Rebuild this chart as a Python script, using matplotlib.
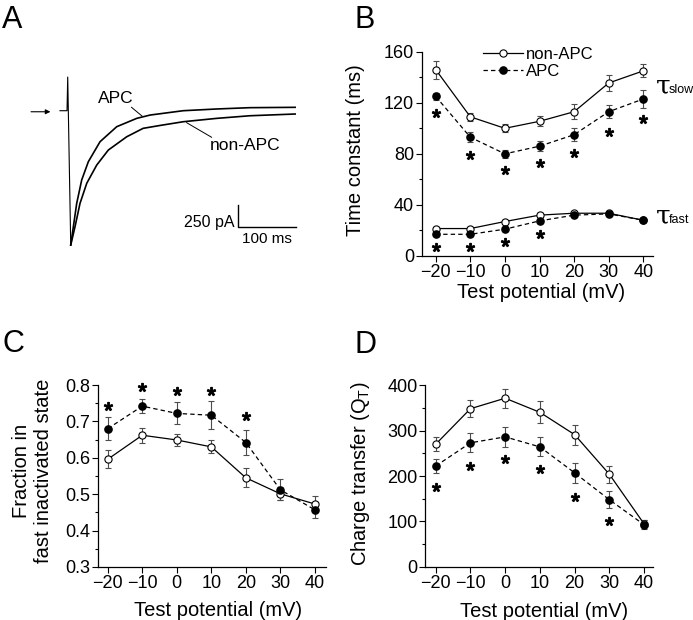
import numpy as np
import matplotlib
matplotlib.use("Agg")
import matplotlib.pyplot as plt
from matplotlib.ticker import MultipleLocator

plt.rcParams['font.family'] = ['Liberation Sans', 'DejaVu Sans']
plt.rcParams['mathtext.fontset'] = 'custom'
plt.rcParams['mathtext.rm'] = 'Liberation Sans'
plt.rcParams['mathtext.it'] = 'Liberation Sans:italic'

# ---- data ----
# panel A: current traces (ms, pA)
t_apc = [-13.3, -1.2, 0.0, 5.2, 15.5, 24.1, 35.5, 55.7, 84.5, 119, 142, 199, 257, 314, 392]
i_apc = [0, 0, 388, -1547, -1067, -798, -588, -357, -184, -88, -50, 0, 20, 35, 39]
t_non = [5.2, 12.6, 21.2, 32.8, 50, 70, 101.7, 130, 159, 199, 257, 314, 392]
i_non = [-1547, -1336, -1067, -836, -626, -453, -300, -203, -170, -127, -88, -58, -38]

# test potentials (mV)
volts = [-20, -10, 0, 10, 20, 30, 40]

# panel B: time constants (ms)
slow_non = [146, 109, 100, 105.5, 113, 135.5, 145]
slow_non_err = [7, 3, 3, 4, 6, 6, 5]
slow_apc = [125, 93, 80, 86, 95, 113, 123]
slow_apc_err = [3, 4, 3, 4, 5, 5, 7]
fast_non = [21.5, 21.5, 27, 32, 33.5, 33.5, 28]
fast_non_err = [1.5, 1.5, 1.5, 1.5, 1, 1, 1]
fast_apc = [17, 17, 21, 27.5, 32, 33, 28]
fast_apc_err = [1.5, 1.5, 1.5, 1.5, 1, 1, 1]
star_slow_y = [112, 79, 67, 73, 80.5, 97, 107]
star_fast_x = [-20, -10, 0, 10]
star_fast_y = [7.3, 7.3, 11.2, 17.2]

# panel C: fraction in fast inactivated state
frac_non = [0.596, 0.662, 0.649, 0.630, 0.545, 0.501, 0.473]
frac_non_err = [0.025, 0.02, 0.017, 0.018, 0.026, 0.018, 0.022]
frac_apc = [0.680, 0.742, 0.722, 0.717, 0.642, 0.512, 0.457]
frac_apc_err = [0.031, 0.02, 0.03, 0.038, 0.035, 0.029, 0.022]
star_c_x = [-20, -10, 0, 10, 20]
star_c_y = [0.741, 0.794, 0.783, 0.783, 0.714]

# panel D: charge transfer
q_non = [270, 348, 371, 340, 291, 204, 95]
q_non_err = [15, 18, 21, 24, 22, 19, 8]
q_apc = [222, 273, 286, 264, 207, 148, 93]
q_apc_err = [16, 21, 22, 21, 22, 18, 10]
star_d_x = [-20, -10, 0, 10, 20, 30]
star_d_y = [175, 223, 237, 215, 153, 102]

fig = plt.figure(figsize=(6.93, 6.2), dpi=100)

TICK = 13
LAB = 14.5


def pair(ax, y1, e1, y2, e2):
    ax.errorbar(volts, y1, yerr=e1, fmt='none', ecolor='0.3', elinewidth=0.8,
                capsize=2.5, capthick=0.8, zorder=2)
    ax.errorbar(volts, y2, yerr=e2, fmt='none', ecolor='0.3', elinewidth=0.8,
                capsize=2.5, capthick=0.8, zorder=2)
    ax.plot(volts, y1, '-', color='k', lw=0.9, marker='o', ms=5.2,
            mfc='white', mec='k', mew=0.8, zorder=3, label='non-APC')
    ax.plot(volts, y2, color='k', lw=0.9, ls=(0, (3.5, 2.5)), marker='o', ms=5.2,
            mfc='k', mec='k', zorder=4, label='APC')


def stars(ax, x, y):
    ax.plot(x, y, ls='none', marker='$*$', ms=5.8, color='k', clip_on=False, zorder=5)


def style(ax, xlim):
    for s in ['top', 'right']:
        ax.spines[s].set_visible(False)
    ax.spines['left'].set_linewidth(0.9)
    ax.spines['bottom'].set_linewidth(0.9)
    ax.set_xlim(*xlim)
    ax.set_xticks(volts)
    ax.tick_params(direction='out', length=4, width=0.8, labelsize=TICK, pad=1.5)
    ax.tick_params(which='minor', direction='out', length=2.5, width=0.8)


# ---- A ----
axA = fig.add_axes([0.0289, 0.5806, 0.4185, 0.3226])
axA.set_xlim(-82.2, 417.7)
axA.set_ylim(-1720, 584)
axA.axis('off')
axA.plot(t_apc[:4], i_apc[:4], color='k', lw=0.8)
axA.plot(t_apc[3:], i_apc[3:], color='k', lw=1.2)
axA.plot(t_non, i_non, color='k', lw=1.2)
axA.annotate('', xy=(-25, -12), xytext=(-68, -12),
             arrowprops=dict(arrowstyle='-|>', color='k', lw=0.8, mutation_scale=7))
axA.plot([294, 294, 394], [-1086, -1336, -1336], color='k', lw=1)
axA.text(288, -1290, '250 pA', ha='right', va='center', fontsize=11.5)
axA.text(344, -1400, '100 ms', ha='center', va='top', fontsize=11)
axA.text(82, 135, 'APC', ha='center', va='center', fontsize=12.5)
axA.plot([110, 128], [39, -61], color='k', lw=0.7)
axA.text(306, -395, 'non-APC', ha='center', va='center', fontsize=12.5)
axA.plot([248, 205], [-306, -138], color='k', lw=0.7)

# ---- B ----
axB = fig.add_axes([0.6085, 0.5871, 0.3338, 0.3295])
pair(axB, slow_non, slow_non_err, slow_apc, slow_apc_err)
axB.errorbar(volts, fast_non, yerr=fast_non_err, fmt='none', ecolor='0.3',
             elinewidth=0.8, capsize=2.5, zorder=2)
axB.errorbar(volts, fast_apc, yerr=fast_apc_err, fmt='none', ecolor='0.3',
             elinewidth=0.8, capsize=2.5, zorder=2)
axB.plot(volts, fast_non, '-', color='k', lw=0.9, marker='o', ms=5.2,
         mfc='white', mec='k', mew=0.8, zorder=3)
axB.plot(volts, fast_apc, color='k', lw=0.9, ls=(0, (3.5, 2.5)), marker='o', ms=5.2,
         mfc='k', mec='k', zorder=4)
stars(axB, volts, star_slow_y)
stars(axB, star_fast_x, star_fast_y)
style(axB, (-24.05, 42.8))
axB.set_ylim(0, 160)
axB.set_yticks([0, 40, 80, 120, 160])
axB.yaxis.set_minor_locator(MultipleLocator(20))
axB.set_ylabel('Time constant (ms)', fontsize=LAB)
axB.set_xlabel('Test potential (mV)', fontsize=LAB)
axB.yaxis.set_label_coords(-0.245, 0.52)
axB.xaxis.set_label_coords(0.514, -0.13)
axB.legend(loc='upper left', bbox_to_anchor=(0.265, 1.025), frameon=False,
           fontsize=12, handlelength=2.4, handletextpad=0.2, labelspacing=0.12,
           borderpad=0, borderaxespad=0)
axB.text(43.6, 127.4, '\u03c4', fontfamily=['DejaVu Serif'], fontsize=19,
         ha='left', va='baseline', clip_on=False)
axB.text(47.4, 127.4, 'slow', fontsize=9, ha='left', va='baseline', clip_on=False)
axB.text(43.6, 25.6, '\u03c4', fontfamily=['DejaVu Serif'], fontsize=19,
         ha='left', va='baseline', clip_on=False)
axB.text(47.4, 25.6, 'fast', fontsize=9, ha='left', va='baseline', clip_on=False)

# ---- C ----
axC = fig.add_axes([0.141, 0.0855, 0.3294, 0.2935])
pair(axC, frac_non, frac_non_err, frac_apc, frac_apc_err)
stars(axC, star_c_x, star_c_y)
style(axC, (-22.9, 43.2))
axC.set_ylim(0.3, 0.8)
axC.set_yticks([0.3, 0.4, 0.5, 0.6, 0.7, 0.8])
axC.yaxis.set_minor_locator(MultipleLocator(0.05))
axC.set_ylabel('Fraction in\nfast inactivated state', fontsize=LAB, linespacing=1.2)
axC.set_xlabel('Test potential (mV)', fontsize=LAB)
axC.yaxis.set_label_coords(-0.197, 0.53)
axC.xaxis.set_label_coords(0.527, -0.185)

# ---- D ----
axD = fig.add_axes([0.6133, 0.0855, 0.329, 0.2935])
pair(axD, q_non, q_non_err, q_apc, q_apc_err)
stars(axD, star_d_x, star_d_y)
style(axD, (-23.1, 42.6))
axD.set_ylim(0, 400)
axD.set_yticks([0, 100, 200, 300, 400])
axD.yaxis.set_minor_locator(MultipleLocator(50))
axD.set_ylabel('Charge transfer (Q$_\\mathregular{T}$)', fontsize=LAB)
axD.set_xlabel('Test potential (mV)', fontsize=LAB)
axD.yaxis.set_label_coords(-0.232, 0.513)
axD.xaxis.set_label_coords(0.522, -0.195)

# panel letters
for x, y, s in [(0.003, 0.9548, 'A'), (0.512, 0.9548, 'B'),
                (0.003, 0.4323, 'C'), (0.511, 0.4306, 'D')]:
    fig.text(x, y, s, fontsize=22, ha='left', va='baseline')

fig.savefig('out.png', dpi=100)
